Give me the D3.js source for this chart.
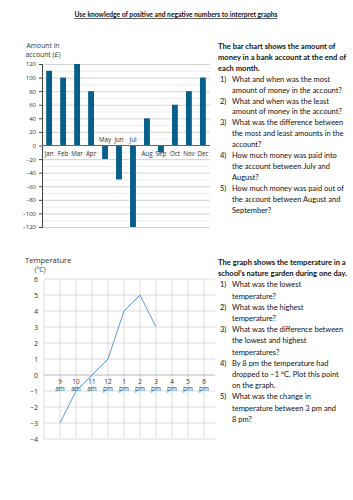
<!DOCTYPE html>
<html>
<head>
<meta charset="utf-8">
<script src="https://cdn.jsdelivr.net/npm/d3@7"></script>
<style>
  body { margin: 0; background: #fff; }
  svg { display: block; }
  .txt { font-family: Lato, "Open Sans", sans-serif; fill: #111; }
  .ax { font-family: "Open Sans", "Noto Sans", sans-serif; fill: #333; }
</style>
</head>
<body>
<div id="page"></div>
<script>
// Bar chart data
var months = ["Jan","Feb","Mar","Apr","May","Jun","Jul","Aug","Sep","Oct","Nov","Dec"]
var amounts = [110, 100, 120, 80, -20, -50, -120, 40, -10, 60, 80, 100]
var amountTicks = [120, 100, 80, 60, 40, 20, 0, -20, -40, -60, -80, -100, -120]

// Line chart data
var hours = [9, 10, 11, 12, 13, 14, 15]
var temps = [-3, -1, 0, 1, 4, 5, 3]
var hourTicks = [9, 10, 11, 12, 13, 14, 15, 16, 17, 18]
var hourNums = ["9","10","11","12","1","2","3","4","5","6"]
var hourHalf = ["am","am","am","pm","pm","pm","pm","pm","pm","pm"]
var tempTicks = [6, 5, 4, 3, 2, 1, 0, -1, -2, -3, -4]

var W = 353, H = 500
var svg = d3.select("#page").append("svg").attr("width", W).attr("height", H)

// Title
svg.append("text").attr("class", "txt")
  .attr("x", 176).attr("y", 17)
  .attr("text-anchor", "middle")
  .attr("font-size", 6.7).attr("font-weight", "bold")
  .attr("text-decoration", "underline")
  .text("Use knowledge of positive and negative numbers to interpret graphs")

// ---------- Bar chart ----------
var bar = { left: 42, right: 210, top: 64, bottom: 227 }
var xBand = d3.scaleBand().domain(months).range([bar.left, bar.right]).paddingInner(0.58).paddingOuter(0.3)
var yAmt = d3.scaleLinear().domain([-120, 120]).range([bar.bottom, bar.top])

var g1 = svg.append("g")

// gridlines every 10, heavier every 20
g1.append("g").selectAll("line")
  .data(d3.range(-120, 121, 10).filter(v => v !== 0))
  .enter().append("line")
  .attr("x1", bar.left).attr("x2", bar.right)
  .attr("y1", d => yAmt(d) + 0.5).attr("y2", d => yAmt(d) + 0.5)
  .attr("stroke", d => d % 20 === 0 ? "#d4d4d4" : "#ececec")
  .attr("stroke-width", 1)

var yAxis1 = d3.axisLeft(yAmt).tickValues(amountTicks).tickSize(3).tickPadding(3)
  .tickFormat(d => d < 0 ? "\u2013" + Math.abs(d) : d)
g1.append("g").attr("transform", `translate(${bar.left},0)`)
  .call(yAxis1)
  .call(g => {
    g.select(".domain").attr("stroke", "#444")
    g.selectAll(".tick line").attr("stroke", "#444")
    g.selectAll(".tick text").attr("class", "ax").attr("font-size", 6).attr("fill", "#333")
  })

g1.append("g").selectAll("rect")
  .data(months)
  .enter().append("rect")
  .attr("x", d => xBand(d))
  .attr("width", xBand.bandwidth())
  .attr("y", (d, i) => yAmt(Math.max(0, amounts[i])))
  .attr("height", (d, i) => Math.abs(yAmt(amounts[i]) - yAmt(0)))
  .attr("fill", "#075f8a")

// zero line
g1.append("line")
  .attr("x1", bar.left).attr("x2", bar.right)
  .attr("y1", yAmt(0)).attr("y2", yAmt(0))
  .attr("stroke", "#666").attr("stroke-width", 1)

// month labels: above the axis for the big negative bars
var labelsAbove = ["May", "Jun", "Jul"]
g1.append("g").selectAll("text")
  .data(months)
  .enter().append("text").attr("class", "ax")
  .attr("x", d => xBand(d) + xBand.bandwidth() / 2)
  .attr("y", d => labelsAbove.includes(d) ? yAmt(0) - 4 : yAmt(0) + 10)
  .attr("text-anchor", "middle")
  .attr("font-size", 6.2)
  .text(d => d)

g1.append("text").attr("class", "ax").attr("x", 43).attr("y", 48)
  .attr("text-anchor", "middle").attr("font-size", 6.8).text("Amount in")
g1.append("text").attr("class", "ax").attr("x", 43).attr("y", 57)
  .attr("text-anchor", "middle").attr("font-size", 6.8).text("account (£)")

// ---------- Temperature chart ----------
var ln = { left: 44, right: 215, top: 279, bottom: 439 }
var xHour = d3.scaleLinear().domain([8, 19]).range([ln.left, ln.left + 176])
var yTemp = d3.scaleLinear().domain([-4, 6]).range([ln.bottom, ln.top])

var g2 = svg.append("g")

g2.append("g").selectAll("line")
  .data(d3.range(8, 19))
  .enter().append("line")
  .attr("x1", d => xHour(d)).attr("x2", d => xHour(d))
  .attr("y1", ln.top).attr("y2", ln.bottom)
  .attr("stroke", "#dcdcdc")

g2.append("g").selectAll("line")
  .data(tempTicks)
  .enter().append("line")
  .attr("x1", ln.left).attr("x2", ln.right)
  .attr("y1", d => yTemp(d)).attr("y2", d => yTemp(d))
  .attr("stroke", d => d === 0 ? "#b8b8b8" : "#dcdcdc")

g2.append("g").selectAll("text")
  .data(tempTicks)
  .enter().append("text").attr("class", "ax")
  .attr("x", 38).attr("y", d => yTemp(d) + 2.5)
  .attr("text-anchor", "end")
  .attr("font-size", 7.2)
  .text(d => d < 0 ? "\u2212" + Math.abs(d) : d)

// hour labels, number over am/pm
var hourG = g2.append("g")
hourG.selectAll("text.num")
  .data(hourTicks)
  .enter().append("text").attr("class", "ax num")
  .attr("text-anchor", "middle").attr("font-size", 6.4)
  .attr("x", d => xHour(d)).attr("y", yTemp(0) + 8.5)
  .text((d, i) => hourNums[i])
hourG.selectAll("text.half")
  .data(hourTicks)
  .enter().append("text").attr("class", "ax half")
  .attr("text-anchor", "middle").attr("font-size", 6.4)
  .attr("x", d => xHour(d)).attr("y", yTemp(0) + 16)
  .text((d, i) => hourHalf[i])

var line = d3.line().x(d => xHour(d[0])).y(d => yTemp(d[1]))
g2.append("path")
  .datum(hours.map((h, i) => [h, temps[i]]))
  .attr("d", line)
  .attr("fill", "none")
  .attr("stroke", "#5b9bd5")
  .attr("stroke-width", 1)

g2.append("text").attr("class", "ax").attr("x", 25).attr("y", 263)
  .attr("font-size", 7.6).text("Temperature")
g2.append("text").attr("class", "ax").attr("x", 40).attr("y", 272)
  .attr("text-anchor", "middle").attr("font-size", 6.8).text("(°C)")

// ---------- Question text ----------
function textBlock(x, y0, lead, heading, items) {
  var y = y0
  heading.forEach(s => {
    svg.append("text").attr("class", "txt").attr("x", x).attr("y", y)
      .attr("font-size", 7.6).attr("font-weight", "bold").text(s)
    y += lead
  })
  items.forEach((lines, i) => {
    svg.append("text").attr("class", "txt").attr("x", x + 2).attr("y", y)
      .attr("font-size", 7.5).text((i + 1) + ")")
    lines.forEach(s => {
      svg.append("text").attr("class", "txt").attr("x", x + 14).attr("y", y)
        .attr("font-size", 7.5).text(s)
      y += lead
    })
  })
}

textBlock(218, 49, 10.9,
  ["The bar chart shows the amount of", "money in a bank account at the end of", "each month."],
  [["What and when was the most", "amount of money in the account?"],
   ["What and when was the least", "amount of money in the account?"],
   ["What was the difference between", "the most and least amounts in the", "account?"],
   ["How much money was paid into", "the account between July and", "August?"],
   ["How much money was paid out of", "the account between August and", "September?"]])

textBlock(218, 265, 11.2,
  ["The graph shows the temperature in a", "school\u2019s nature garden during one day."],
  [["What was the lowest", "temperature?"],
   ["What was the highest", "temperature?"],
   ["What was the difference between", "the lowest and highest", "temperatures?"],
   ["By 8 pm the temperature had", "dropped to \u22121 °C. Plot this point", "on the graph."],
   ["What was the change in", "temperature between 3 pm and", "8 pm?"]])
</script>
</body>
</html>
